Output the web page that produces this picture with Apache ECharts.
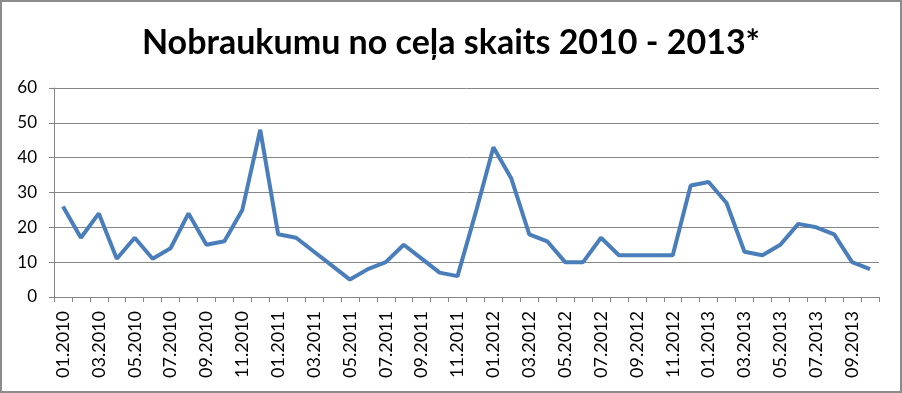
<!DOCTYPE html>
<html><head><meta charset="utf-8">
<script src="https://cdn.jsdelivr.net/npm/echarts@6/dist/echarts.min.js"></script>
<style>html,body{margin:0;padding:0;background:#fff}#c{width:902px;height:393px;box-sizing:border-box;border:2px solid #8c8c8c}</style>
</head><body><div id="c"></div>
<script>
const titleText = "Nobraukumu no ceļa skaits 2010 - 2013*";
const months = ["01.2010","02.2010","03.2010","04.2010","05.2010","06.2010","07.2010","08.2010","09.2010","10.2010","11.2010","12.2010",
"01.2011","02.2011","03.2011","04.2011","05.2011","06.2011","07.2011","08.2011","09.2011","10.2011","11.2011","12.2011",
"01.2012","02.2012","03.2012","04.2012","05.2012","06.2012","07.2012","08.2012","09.2012","10.2012","11.2012","12.2012",
"01.2013","02.2013","03.2013","04.2013","05.2013","06.2013","07.2013","08.2013","09.2013","10.2013"];
const values = [26,17,24,11,17,11,14,24,15,16,25,48,
18,17,13,9,5,8,10,15,11,7,6,24,
43,34,18,16,10,10,17,12,12,12,12,32,
33,27,13,12,15,21,20,18,10,8];
const yTicks = {min:0,max:60,interval:10};
const chart = echarts.init(document.getElementById('c'));
const font = 'Lato, "Open Sans", sans-serif';
chart.setOption({
  animation:false,
  title:{text:titleText,left:'center',top:19,textStyle:{fontFamily:font,fontWeight:'bold',fontSize:34,color:'#000'}},
  grid:{left:52,right:21,top:86,bottom:94,containLabel:false},
  xAxis:{type:'category',data:months,boundaryGap:true,
    axisLine:{lineStyle:{color:'#868686',width:1}},
    axisTick:{show:true,interval:0,length:5,lineStyle:{color:'#868686'}},
    axisLabel:{interval:1,rotate:90,fontFamily:font,fontSize:18,color:'#000',margin:14}},
  yAxis:{type:'value',min:yTicks.min,max:yTicks.max,interval:yTicks.interval,
    axisLine:{show:true,lineStyle:{color:'#868686'}},
    axisTick:{show:true,length:5,lineStyle:{color:'#868686'}},
    splitLine:{lineStyle:{color:'#868686',width:1}},
    axisLabel:{fontFamily:font,fontSize:17,color:'#000',margin:17}},
  series:[{type:'line',data:values,symbol:'none',lineStyle:{color:'#4a7ebb',width:4},itemStyle:{color:'#4a7ebb'}}]
});
</script></body></html>
